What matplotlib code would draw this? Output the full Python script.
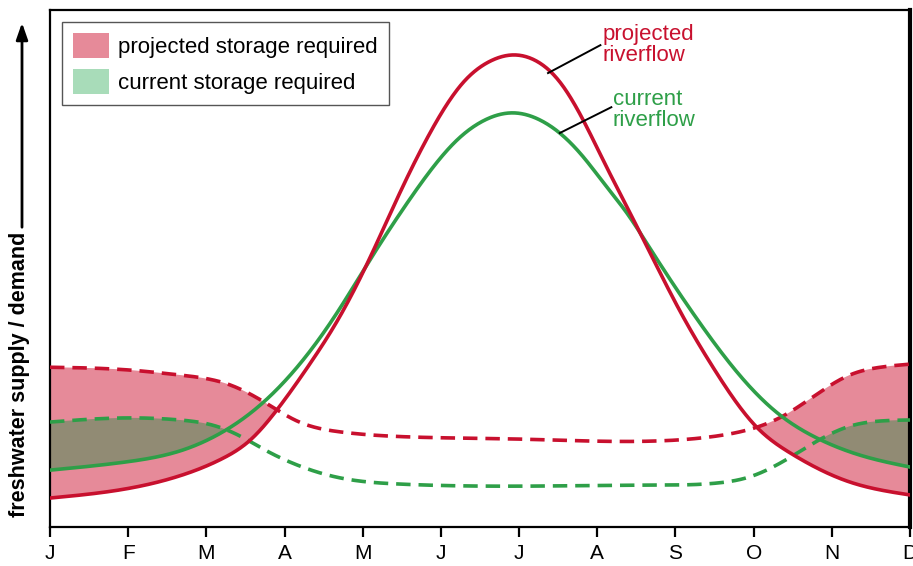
import numpy as np
import matplotlib
matplotlib.use("Agg")
import matplotlib.pyplot as plt
from matplotlib.patches import Patch

plt.rcParams['font.family'] = ['Liberation Sans', 'DejaVu Sans']

months = ['J', 'F', 'M', 'A', 'M', 'J', 'J', 'A', 'S', 'O', 'N', 'D']

# projected riverflow (supply, red solid)
proj_flow_x = [0.00, 0.98, 1.66, 2.20, 2.56, 2.90, 3.29, 3.71, 4.09, 4.48, 4.86, 5.28,
               5.63, 5.91, 6.20, 6.52, 6.82, 7.12, 7.38, 7.67, 8.10, 8.48, 9.04, 9.47,
               10.23, 11.00]
proj_flow_y = [5.6, 7.4, 9.9, 13.2, 16.8, 22.6, 30.8, 40.8, 52.0, 64.8, 76.2, 85.9,
               90.1, 91.3, 90.3, 86.1, 78.7, 69.6, 61.9, 53.2, 40.6, 30.9, 19.3, 14.3,
               8.7, 6.2]

# current riverflow (supply, green solid)
curr_flow_x = [0.00, 0.98, 1.66, 2.21, 2.69, 3.16, 3.67, 4.09, 4.57, 4.90, 5.21, 5.56,
               5.92, 6.27, 6.52, 6.82, 7.12, 7.38, 7.67, 8.31, 8.83, 9.30, 9.81, 10.45,
               11.00]
curr_flow_y = [11.0, 12.6, 14.7, 18.4, 23.6, 30.9, 41.4, 51.6, 62.7, 69.6, 74.9, 78.7,
               80.1, 78.7, 76.2, 71.6, 65.8, 60.7, 54.0, 39.5, 29.2, 22.1, 17.2, 13.5,
               11.6]

# projected demand (red dashed)
proj_dem_x = [0.00, 0.98, 1.66, 2.30, 2.78, 3.16, 3.71, 4.64, 6.01, 7.67, 8.53, 9.04,
              9.38, 9.81, 10.23, 10.62, 11.00]
proj_dem_y = [30.9, 30.4, 29.4, 27.5, 23.8, 20.5, 18.4, 17.4, 17.0, 16.6, 17.6, 19.3,
              21.5, 25.7, 29.4, 30.9, 31.5]

# current demand (green dashed)
curr_dem_x = [0.00, 0.98, 1.66, 2.08, 2.43, 2.75, 3.16, 3.71, 4.48, 6.01, 7.67, 8.53,
              8.95, 9.47, 9.81, 10.23, 10.62, 11.00]
curr_dem_y = [20.3, 21.1, 20.7, 19.7, 17.6, 14.9, 12.0, 9.5, 8.3, 7.9, 8.1, 8.5,
              9.7, 13.5, 16.6, 19.5, 20.5, 20.7]

RED = '#c8102e'
GREEN = '#2e9f48'
PINK = '#e68a99'
OVERLAP = '#918b74'
LIGHT_GREEN = '#a8dcb9'


def spline(x, y, xs):
    """Natural cubic spline through the read points, for drawing smooth curves"""
    x = np.asarray(x, float)
    y = np.asarray(y, float)
    n = len(x)
    h = np.diff(x)
    d = np.diff(y) / h
    A = np.zeros((n, n))
    b = np.zeros(n)
    A[0, 0] = A[-1, -1] = 1
    for i in range(1, n - 1):
        A[i, i - 1] = h[i - 1]
        A[i, i] = 2 * (h[i - 1] + h[i])
        A[i, i + 1] = h[i]
        b[i] = 3 * (d[i] - d[i - 1])
    c = np.linalg.solve(A, b)
    i = np.clip(np.searchsorted(x, xs) - 1, 0, n - 2)
    t = xs - x[i]
    bb = d[i] - h[i] * (2 * c[i] + c[i + 1]) / 3
    dd = (c[i + 1] - c[i]) / (3 * h[i])
    return y[i] + bb * t + c[i] * t**2 + dd * t**3


xs = np.linspace(0, 11, 1000)
pf = spline(proj_flow_x, proj_flow_y, xs)
cf = spline(curr_flow_x, curr_flow_y, xs)
pdm = spline(proj_dem_x, proj_dem_y, xs)
cdm = spline(curr_dem_x, curr_dem_y, xs)

fig = plt.figure(figsize=(9.13, 5.66), dpi=100)
ax = fig.add_axes([50 / 913, 39 / 566, 860 / 913, 517 / 566])

# storage required = demand above supply
ax.fill_between(xs, pf, pdm, where=pdm > pf, interpolate=True, color=PINK, lw=0, zorder=1)
ax.fill_between(xs, cf, cdm, where=cdm > cf, interpolate=True, color=OVERLAP, lw=0, zorder=2)

dash = (4, 2.2)
ax.plot(xs, pdm, color=RED, lw=2.6, dashes=dash, zorder=3)
ax.plot(xs, cdm, color=GREEN, lw=2.6, dashes=dash, zorder=3)
ax.plot(xs, cf, color=GREEN, lw=2.6, zorder=4)
ax.plot(xs, pf, color=RED, lw=2.6, zorder=5)

ax.set_xlim(0, 11)
ax.set_ylim(0, 100)
ax.set_xticks(range(12))
ax.set_xticklabels(months, fontsize=15)
ax.set_yticks([])
ax.tick_params(axis='x', direction='out', length=7, width=1.6, pad=5)
for side in ['left', 'bottom', 'top']:
    ax.spines[side].set_linewidth(1.6)
ax.spines['right'].set_linewidth(3)

# curve labels
ax.text(7.07, 97.3, 'projected\nriverflow', color=RED, fontsize=16,
        ha='left', va='top', linespacing=1.0)
ax.text(7.20, 84.8, 'current\nriverflow', color=GREEN, fontsize=16,
        ha='left', va='top', linespacing=1.0)
ax.plot([6.37, 7.04], [87.8, 93.2], color='black', lw=1.4, zorder=6)
ax.plot([6.52, 7.18], [76.2, 81.2], color='black', lw=1.4, zorder=6)

handles = [Patch(facecolor=PINK, edgecolor='none', label='projected storage required'),
           Patch(facecolor=LIGHT_GREEN, edgecolor='none', label='current storage required')]
leg = ax.legend(handles=handles, loc='upper left', bbox_to_anchor=(0.014, 0.977),
                borderaxespad=0, fontsize=16, handlelength=1.62, handleheight=1.35,
                handletextpad=0.4, labelspacing=0.5, borderpad=0.5,
                fancybox=False, framealpha=1)
leg.get_frame().set_edgecolor('#555555')
leg.get_frame().set_linewidth(1.0)

# y label with upward arrow
fig.text(20 / 913, 1 - 374 / 566, 'freshwater supply / demand', rotation=90,
         fontsize=15.5, fontweight='bold', ha='center', va='center')
ax.annotate('', xy=(22, 546), xycoords='figure pixels',
            xytext=(22, 336), textcoords='figure pixels',
            arrowprops=dict(arrowstyle='-|>,head_length=1.0,head_width=0.35',
                            color='black', lw=2))

fig.savefig('out.png', dpi=100)
